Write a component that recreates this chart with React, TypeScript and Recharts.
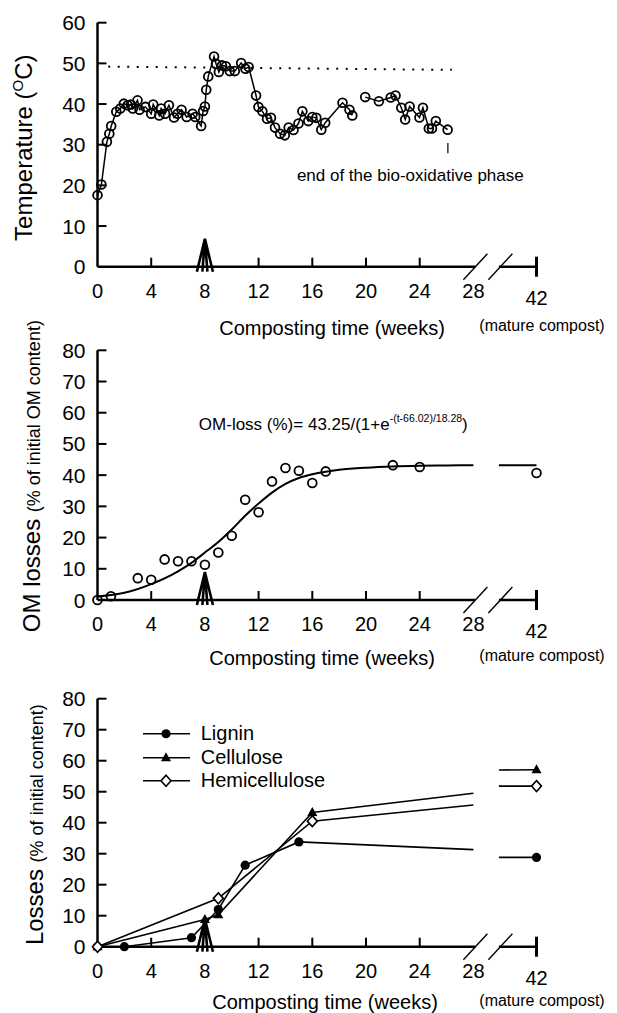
import { ComposedChart, Line, Scatter, XAxis, YAxis, ReferenceLine, ReferenceDot, Legend } from 'recharts';

const FONT = '"Liberation Sans", Arial, Helvetica, sans-serif';

// Time axis is broken after 28 weeks; 42 weeks (mature compost) sits at X42 on the scale
const X42 = 32.7;
const AXIS_BREAK = 28.15;
const AXIS_RESUME = 29.9;
const xTicks = [0, 4, 8, 12, 16, 20, 24, 28, X42];
const xTickLabels = ['0', '4', '8', '12', '16', '20', '24', '28', '42'];

// Panel 1: temperature (null = no reading, line is broken)
const tempTicks = [0, 10, 20, 30, 40, 50, 60];
const tempWeeks = [
  0, 0.29, 0.7, 0.88, 1.02, 1.4, 1.7, 1.96, 2.25, 2.49, 2.63, 2.98, 3.13, 3.57, 4.0, 4.15, 4.6, 4.74,
  5.03, 5.32, 5.7, 5.96, 6.26, 6.64, 7.08, 7.28, 7.72, 7.87, 8.0, 8.1, 8.25, 8.68, 8.83, 9.04, 9.27,
  9.56, 9.85, 10.23, 10.7, 11.02, 11.26, 11.81, 11.99, 12.28, 12.63, 12.92, 13.22, 13.6, 13.95, 14.24,
  14.6, 14.97, 15.26, 15.7, 16.0, 16.3, 16.67, 16.96, 18.25, 18.77, 18.98, 19.45, 19.94, 20.96, 21.84,
  22.2, 22.63, 22.92, 23.25, 23.98, 24.24, 24.68, 24.91, 25.2, 26.08,
];
const tempC = [
  17.6, 20.2, 30.7, 32.7, 34.6, 38.1, 38.9, 40.1, 39.7, 39.9, 38.9, 40.9, 38.6, 39.3, 37.6, 39.9, 37.2, 38.9,
  37.6, 39.7, 36.7, 37.6, 38.6, 36.8, 37.6, 36.8, 34.6, 38.3, 39.4, 43.5, 46.8, 51.7, 49.9, 47.9, 49.5,
  49.3, 48.1, 48.1, 50.1, 48.7, 49.1, 42.1, 39.3, 38.2, 36.4, 36.6, 34.2, 32.7, 32.3, 34.2,
  33.6, 35.2, 38.2, 35.8, 36.8, 36.6, 33.7, 35.4, 40.3, 38.6, 37.2, null, 41.7, 40.7, 41.6,
  42.1, 39.1, 36.2, 39.4, 36.7, 39.1, 34.0, 34.0, 35.8, 33.7,
];
const thermoWeeks = [0.8, 26.4];
const thermoC = [49.2, 48.4];
const endPhaseWeek = 26.1;

// Panel 2: organic matter losses
const lossTicks = [0, 10, 20, 30, 40, 50, 60, 70, 80];
const omWeeks = [0, 1, 3, 4, 5, 6, 7, 8, 9, 10, 11, 12, 13, 14, 15, 16, 17, 22, 24, 42];
const omLoss = [0, 1.2, 7.0, 6.5, 13.0, 12.4, 12.4, 11.3, 15.2, 20.6, 32.1, 28.1, 38.0, 42.3, 41.4, 37.5, 41.2, 43.2, 42.6, 40.7];
const fitWeeks = [0, 2, 4, 6, 7, 8, 9, 10, 11, 12, 13, 14, 15, 16, 17, 18, 20, 22, 24, 26, 28, 42];
const fitLoss = [1.1, 2.3, 5.1, 9.2, 11.9, 15.2, 18.6, 22.6, 27.0, 30.9, 34.4, 37.2, 39.1, 40.3, 41.1, 41.7, 42.4, 42.8, 43.0, 43.1, 43.2, 43.2];
const fitAtBreak = [43.2, 43.2];

// Panel 3: fibre losses
const seriesNames = ['Lignin', 'Cellulose', 'Hemicellulose'];
const ligninWeeks = [0, 2, 7, 9, 11, 15, 42];
const ligninLoss = [0, 0, 2.9, 12.0, 26.3, 33.8, 28.8];
const ligninAtBreak = [31.3, 28.8];
const celluloseWeeks = [0, 8, 9, 16, 42];
const celluloseLoss = [0, 8.8, 10.3, 43.3, 57.1];
const celluloseAtBreak = [49.5, 57.0];
const hemiWeeks = [0, 9, 16, 42];
const hemiLoss = [0, 15.6, 40.5, 51.8];
const hemiAtBreak = [45.7, 51.8];

type Row = { x: number; y: number | null; obs: boolean };
const pos = (w: number) => (w === 42 ? X42 : w);

const toRows = (weeks: number[], values: (number | null)[]): Row[] =>
  weeks.map((w, i) => ({ x: pos(w), y: values[i], obs: true }));

// line runs to 28 weeks, breaks with the axis, then resumes towards 42 weeks
const withBreak = (weeks: number[], values: number[], atBreak: number[], obs = true): Row[] => {
  const rows: Row[] = weeks.filter((w) => w < 28).map((w) => ({ x: w, y: values[weeks.indexOf(w)], obs }));
  const at28 = weeks.indexOf(28);
  rows.push({ x: 28, y: at28 >= 0 ? values[at28] : atBreak[0], obs: false });
  rows.push({ x: (28 + AXIS_RESUME) / 2, y: null, obs: false });
  rows.push({ x: AXIS_RESUME, y: atBreak[1], obs: false });
  rows.push({ x: X42, y: values[weeks.indexOf(42)], obs });
  return rows;
};

const tempData = toRows(tempWeeks, tempC);
const thermoData = toRows(thermoWeeks, thermoC);
const omData = toRows(omWeeks, omLoss);
const fitData = withBreak(fitWeeks, fitLoss, fitAtBreak, false);
const ligninData = withBreak(ligninWeeks, ligninLoss, ligninAtBreak);
const celluloseData = withBreak(celluloseWeeks, celluloseLoss, celluloseAtBreak);
const hemiData = withBreak(hemiWeeks, hemiLoss, hemiAtBreak);

const seriesMarker: Record<string, string> = { Lignin: 'disc', Cellulose: 'triangle', Hemicellulose: 'diamond' };

function Marker({ kind, cx, cy }: { kind: string; cx: number; cy: number }) {
  if (kind === 'disc') return <circle cx={cx} cy={cy} r={4.6} fill="#000" />;
  if (kind === 'triangle') return <path d={`M${cx},${cy - 5.5} L${cx + 5},${cy + 3.5} L${cx - 5},${cy + 3.5} Z`} fill="#000" />;
  if (kind === 'diamond')
    return <path d={`M${cx},${cy - 5.5} L${cx + 5},${cy} L${cx},${cy + 5.5} L${cx - 5},${cy} Z`} fill="#fff" stroke="#000" strokeWidth={1.6} />;
  return <circle cx={cx} cy={cy} r={4.4} fill="none" stroke="#000" strokeWidth={1.8} />;
}

const dotOf = (kind: string) => (props: any) => {
  const { cx, cy, payload, index } = props;
  if (!payload || !payload.obs || payload.y == null || cx == null || cy == null) return <g key={`d${index}`} />;
  return <Marker key={`d${index}`} kind={kind} cx={cx} cy={cy} />;
};

// x ticks point up into the plot; 8 carries the arrow, 28 the break, 42 a cross tick
const XTick = (props: any) => {
  const { x, y, payload } = props;
  const v = payload.value;
  const label = xTickLabels[xTicks.indexOf(v)];
  let mark = null;
  if (v === 8) {
    mark = (
      <path
        d={`M${x - 8},${y + 5} L${x},${y - 28} L${x + 8},${y + 5} M${x - 2.5},${y + 5} L${x},${y - 28} L${x + 2.5},${y + 5}`}
        fill="none" stroke="#000" strokeWidth={2.6}
      />
    );
  } else if (v === 28) {
    mark = (
      <g stroke="#000" strokeWidth={1.4}>
        <line x1={x - 10} y1={y + 13} x2={x + 14} y2={y - 13} />
        <line x1={x + 15} y1={y + 13} x2={x + 39} y2={y - 13} />
      </g>
    );
  } else if (v === X42) {
    mark = <line x1={x} y1={y - 10} x2={x} y2={y + 10} stroke="#000" strokeWidth={3} />;
  } else if (v !== 0) {
    mark = <line x1={x} y1={y} x2={x} y2={y - 9} stroke="#000" strokeWidth={2} />;
  }
  return (
    <g>
      {mark}
      <text x={x} y={y + (v === X42 ? 38 : 31)} textAnchor="middle" fontFamily={FONT} fontSize={20} fill="#000">
        {label}
      </text>
    </g>
  );
};

const YTick = (props: any) => {
  const { x, y, payload } = props;
  return (
    <g>
      {payload.value !== 0 && <line x1={x} y1={y} x2={x + 9} y2={y} stroke="#000" strokeWidth={2} />}
      <text x={x - 12} y={y} dy="0.36em" textAnchor="end" fontFamily={FONT} fontSize={21} fill="#000">
        {payload.value}
      </text>
    </g>
  );
};

const timeTitle = (titleDx: number, titleDy: number, noteDy: number) => (props: any) => {
  const { x, y } = props.viewBox;
  return (
    <g fontFamily={FONT} fill="#000">
      <text x={x + titleDx} y={y + titleDy} textAnchor="middle" fontSize={20}>Composting time (weeks)</text>
      <text x={542} y={y + noteDy} textAnchor="middle" fontSize={16}>(mature compost)</text>
    </g>
  );
};

const sideTitle = (bx: number, shift: number, main: string, small?: string) => (props: any) => {
  const { y, height } = props.viewBox;
  const cy = y + height / 2 + shift;
  return (
    <text transform={`rotate(-90 ${bx} ${cy})`} x={bx} y={cy} textAnchor="middle" fontFamily={FONT} fontSize={24} fill="#000">
      {main}
      {small && <tspan fontSize={18}>{small}</tspan>}
    </text>
  );
};

const tempTitle = (props: any) => {
  const { y, height } = props.viewBox;
  const bx = 32;
  const cy = y + height / 2 + 3;
  return (
    <text transform={`rotate(-90 ${bx} ${cy})`} x={bx} y={cy} textAnchor="middle" fontFamily={FONT} fontSize={24} fill="#000">
      Temperature (<tspan fontSize={15} dy={-9}>O</tspan>
      <tspan dy={9}>C)</tspan>
    </text>
  );
};

const timeAxisLine = [
  <ReferenceLine key="ax1" segment={[{ x: 0, y: 0 }, { x: AXIS_BREAK, y: 0 }]} stroke="#000" strokeWidth={2.5} ifOverflow="visible" />,
  <ReferenceLine key="ax2" segment={[{ x: AXIS_RESUME, y: 0 }, { x: X42, y: 0 }]} stroke="#000" strokeWidth={2.5} ifOverflow="visible" />,
];

const xAxisProps = {
  type: 'number' as const,
  dataKey: 'x',
  domain: [0, X42],
  ticks: xTicks,
  interval: 0 as const,
  tickSize: 0,
  tickMargin: 0,
  tickLine: false,
  axisLine: false,
  tick: XTick,
  height: 40,
};

const yAxisProps = {
  type: 'number' as const,
  interval: 0 as const,
  width: 60,
  tickSize: 0,
  tickMargin: 0,
  tickLine: false,
  axisLine: { stroke: '#000', strokeWidth: 2.5 },
  tick: YTick,
};

const LegendContent = (props: any) => {
  const items = [...(props.payload || [])].sort(
    (a: any, b: any) => seriesNames.indexOf(a.value) - seriesNames.indexOf(b.value),
  );
  return (
    <div style={{ fontFamily: FONT, fontSize: 20, color: '#000', lineHeight: '23.5px' }}>
      {items.map((entry: any) => (
        <div key={entry.value} style={{ display: 'flex', alignItems: 'center', height: 23.5 }}>
          <svg width={57.7} height={23.5} style={{ display: 'block' }}>
            <line x1={0} y1={11.75} x2={47} y2={11.75} stroke="#000" strokeWidth={1.6} />
            <Marker kind={seriesMarker[entry.value]} cx={23} cy={11.75} />
          </svg>
          <span>{entry.value}</span>
        </div>
      ))}
    </div>
  );
};

export default function App() {
  return (
    <div style={{ position: 'absolute', left: 0, top: 0, width: 617, height: 1013, background: '#fff' }}>
      <style>{'svg { overflow: visible; }'}</style>

      <div style={{ position: 'absolute', left: 0, top: 0 }}>
        <ComposedChart width={617} height={340} margin={{ top: 22.7, right: 80.5, bottom: 33.3, left: 37.5 }}>
          <XAxis {...xAxisProps} label={timeTitle(234.5, 68.6, 64)} />
          <YAxis {...yAxisProps} domain={[0, 60]} ticks={tempTicks} label={tempTitle} />
          {timeAxisLine}
          <Line data={thermoData} dataKey="y" stroke="#000" strokeWidth={2} strokeDasharray="2 7.5" dot={false} isAnimationActive={false} />
          <Line data={tempData} dataKey="y" stroke="#000" strokeWidth={1.5} dot={dotOf('open')} activeDot={false} isAnimationActive={false} />
          <ReferenceLine segment={[{ x: endPhaseWeek, y: 27.9 }, { x: endPhaseWeek, y: 30.4 }]} stroke="#000" strokeWidth={1.2} />
          <ReferenceDot
            x={23.3} y={22.6} r={0} ifOverflow="visible"
            shape={(p: any) => (
              <text x={p.cx} y={p.cy} dy="0.35em" textAnchor="middle" fontFamily={FONT} fontSize={17} fill="#000">
                end of the bio-oxidative phase
              </text>
            )}
          />
        </ComposedChart>
      </div>

      <div style={{ position: 'absolute', left: 0, top: 340 }}>
        <ComposedChart width={617} height={335} margin={{ top: 10.3, right: 80.5, bottom: 35, left: 37.5 }}>
          <XAxis {...xAxisProps} label={timeTitle(224.5, 65.3, 61)} />
          <YAxis {...yAxisProps} domain={[0, 80]} ticks={lossTicks} label={sideTitle(40, 1, 'OM losses ', '(% of initial OM content)')} />
          {timeAxisLine}
          <Line data={fitData} dataKey="y" type="monotone" stroke="#000" strokeWidth={2} dot={false} isAnimationActive={false} />
          <Scatter data={omData} dataKey="y" shape={(p: any) => <Marker kind="open" cx={p.cx} cy={p.cy} />} isAnimationActive={false} />
          <ReferenceDot
            x={7.55} y={54.5} r={0} ifOverflow="visible"
            shape={(p: any) => (
              <text x={p.cx} y={p.cy} fontFamily={FONT} fontSize={17} fill="#000">
                OM-loss (%)= 43.25/(1+e<tspan fontSize={10.5} dy={-8}>-(t-66.02)/18.28</tspan>
                <tspan dy={8}>)</tspan>
              </text>
            )}
          />
        </ComposedChart>
      </div>

      <div style={{ position: 'absolute', left: 0, top: 675 }}>
        <ComposedChart width={617} height={338} margin={{ top: 23.7, right: 80.5, bottom: 26.3, left: 37.5 }}>
          <XAxis {...xAxisProps} label={timeTitle(227.5, 62.7, 59)} />
          <YAxis {...yAxisProps} domain={[0, 80]} ticks={lossTicks} label={sideTitle(43, 2, 'Losses ', '(% of initial content)')} />
          {timeAxisLine}
          <Legend
            layout="vertical" align="center" verticalAlign="middle"
            wrapperStyle={{ left: 143, top: 47.25, width: 220 }}
            content={LegendContent}
          />
          <Line name="Lignin" data={ligninData} dataKey="y" stroke="#000" strokeWidth={1.6} dot={dotOf('disc')} activeDot={false} isAnimationActive={false} />
          <Line name="Cellulose" data={celluloseData} dataKey="y" stroke="#000" strokeWidth={1.6} dot={dotOf('triangle')} activeDot={false} isAnimationActive={false} />
          <Line name="Hemicellulose" data={hemiData} dataKey="y" stroke="#000" strokeWidth={1.6} dot={dotOf('diamond')} activeDot={false} isAnimationActive={false} />
        </ComposedChart>
      </div>
    </div>
  );
}
